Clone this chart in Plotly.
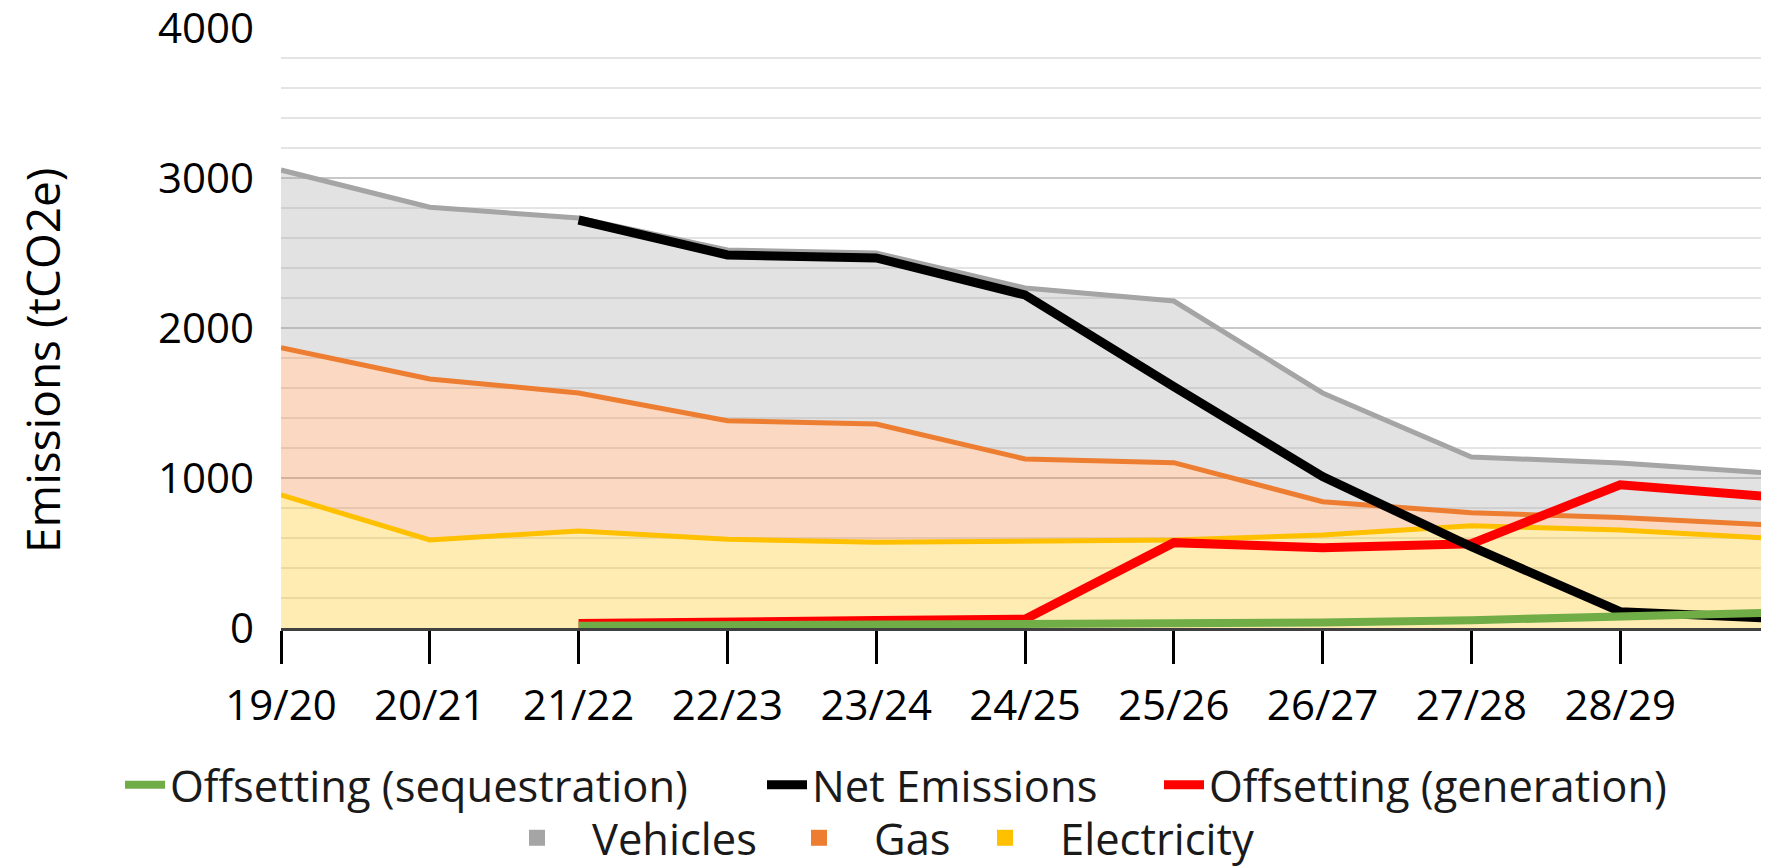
import plotly.graph_objects as go

categories = ["19/20", "20/21", "21/22", "22/23", "23/24", "24/25",
              "25/26", "26/27", "27/28", "28/29", "29/30"]
# the last category's label is cut off in the original chart
tick_labels = ["19/20", "20/21", "21/22", "22/23", "23/24", "24/25",
               "25/26", "26/27", "27/28", "28/29", ""]

electricity = [887, 587, 647, 591, 571, 582, 587, 620, 682, 653, 598]
gas = [982, 1073, 920, 791, 789, 545, 515, 222, 87, 83, 89]
vehicles = [1184, 1145, 1166, 1138, 1140, 1140, 1078, 725, 371, 364, 346]

net_emissions = [None, None, 2720, 2487, 2467, 2220, 1609, 1009, 542, 109, 66]
offset_generation = [None, None, 30, 45, 50, 58, 569, 535, 562, 955, 876]
offset_sequestration = [None, None, 15, 18, 20, 24, 28, 36, 52, 80, 102]

xi = list(range(len(categories)))
FONT = "Open Sans"
W, H = 1761, 858  # page body adds an 8px margin

fig = go.Figure()

# stacked areas
fig.add_trace(go.Scatter(x=xi, y=electricity, name="Electricity", stackgroup="emis",
                         mode="lines", line=dict(color="#FFC000", width=5),
                         fillcolor="rgba(255,192,0,0.30)", showlegend=False))
fig.add_trace(go.Scatter(x=xi, y=gas, name="Gas", stackgroup="emis",
                         mode="lines", line=dict(color="#ED7D31", width=5),
                         fillcolor="rgba(237,125,49,0.30)", showlegend=False))
fig.add_trace(go.Scatter(x=xi, y=vehicles, name="Vehicles", stackgroup="emis",
                         mode="lines", line=dict(color="#A5A5A5", width=5),
                         fillcolor="rgba(165,165,165,0.32)", showlegend=False))

# lines
fig.add_trace(go.Scatter(x=xi, y=offset_generation, name="Offsetting (generation)",
                         mode="lines", line=dict(color="#FF0000", width=9),
                         legend="legend3"))
fig.add_trace(go.Scatter(x=xi, y=net_emissions, name="Net Emissions",
                         mode="lines", line=dict(color="#000000", width=9),
                         legend="legend2"))
fig.add_trace(go.Scatter(x=xi, y=offset_sequestration, name="Offsetting (sequestration)",
                         mode="lines", line=dict(color="#70AD47", width=8),
                         legend="legend"))

# legend entries for the areas
area_legend = [("Vehicles", "#A5A5A5", "legend4"), ("Gas", "#ED7D31", "legend5"),
               ("Electricity", "#FFC000", "legend6")]
for nm, col, lg in area_legend:
    fig.add_trace(go.Scatter(x=[None], y=[None], name=nm, mode="markers",
                             marker=dict(symbol="square", size=16, color=col),
                             legend=lg))


def leg(text_start_page, row_center_page, itemwidth):
    off = itemwidth + 10  # legend box left -> legend text start (px)
    return dict(orientation="h", xref="container", yref="container",
                x=(text_start_page - 8 - off) / W,
                y=1 - (row_center_page - 8) / H,
                xanchor="left", yanchor="middle", itemwidth=itemwidth,
                font=dict(size=43.5, color="#1a1a1a"), bgcolor="rgba(0,0,0,0)")


fig.update_layout(
    width=W, height=H,
    margin=dict(l=273, r=0, t=20, b=238, autoexpand=False),
    paper_bgcolor="white", plot_bgcolor="white",
    font=dict(family=FONT, size=42, color="#000000"),
    xaxis=dict(range=[0, 10], tickmode="array", tickvals=xi, ticktext=tick_labels,
               showgrid=False, zeroline=False, showline=True, linecolor="#404040",
               linewidth=3, ticks="outside", ticklen=33, tickwidth=3, tickcolor="#000000",
               ticklabelstandoff=6, tickfont=dict(size=42), automargin=False),
    yaxis=dict(range=[0, 4000], dtick=1000, showgrid=True, gridcolor="#c8c8c8",
               gridwidth=2, zeroline=False, showline=False, ticks="",
               ticklabelstandoff=26, tickfont=dict(size=42), ticklabeloverflow="allow",
               automargin=False,
               minor=dict(dtick=200, showgrid=True, gridcolor="#e4e4e4", gridwidth=2)),
    legend=leg(170, 785, 40),
    legend2=leg(812, 785, 40),
    legend3=leg(1209, 785, 40),
    legend4=leg(592, 838, 100),
    legend5=leg(874, 838, 100),
    legend6=leg(1060, 838, 100),
    annotations=[dict(text="Emissions (tCO2e)", textangle=-90, xref="paper", yref="paper",
                      x=(34 - 273) / 1488, y=0.445, xanchor="center", yanchor="middle",
                      showarrow=False, font=dict(size=46))],
)

fig.write_html("out.html")
